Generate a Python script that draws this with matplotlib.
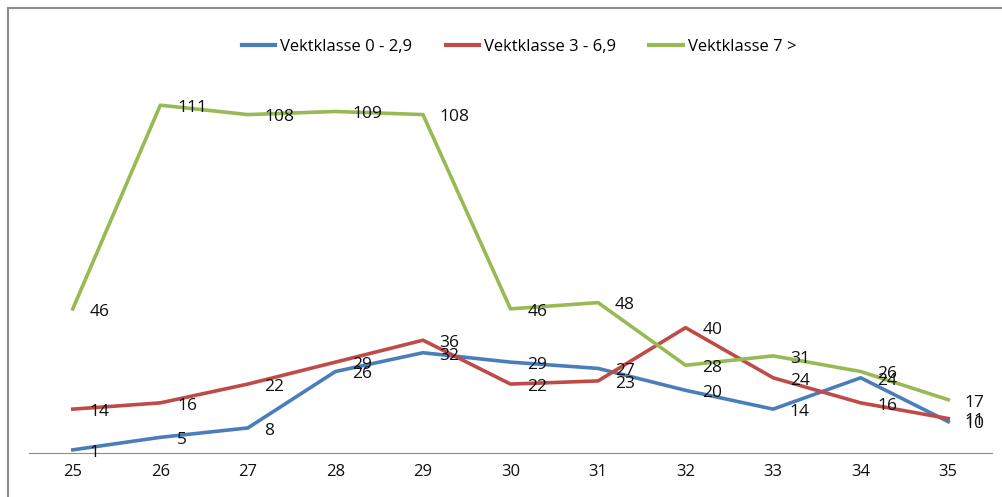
import matplotlib
matplotlib.use('Agg')
import matplotlib.pyplot as plt
from matplotlib.patches import Rectangle

uker = [25, 26, 27, 28, 29, 30, 31, 32, 33, 34, 35]
vekt_0_29 = [1, 5, 8, 26, 32, 29, 27, 20, 14, 24, 10]
vekt_3_69 = [14, 16, 22, 29, 36, 22, 23, 40, 24, 16, 11]
vekt_7 = [46, 111, 108, 109, 108, 46, 48, 28, 31, 26, 17]

serier = [
    ('Vektklasse 0 - 2,9', vekt_0_29, '#4A7EBB'),
    ('Vektklasse 3 - 6,9', vekt_3_69, '#BE4B48'),
    ('Vektklasse 7 >', vekt_7, '#98B954'),
]

plt.rcParams['font.family'] = ['Open Sans', 'DejaVu Sans']

fig = plt.figure(figsize=(10.03, 4.97), dpi=100)
fig.patches.append(Rectangle((8 / 1003, -0.1), 1.2, (497 - 8) / 497 + 0.1,
                             transform=fig.transFigure, fill=False,
                             edgecolor='#8c8c8c', linewidth=1.5))

ax = fig.add_axes([29 / 1003, 44 / 497, (992 - 29) / 1003, 376 / 497])
for navn, verdier, farge in serier:
    ax.plot(uker, verdier, color=farge, linewidth=2.6, label=navn)
    for x, y in zip(uker, verdier):
        ax.annotate(str(y), (x, y), xytext=(12, -2), textcoords='offset points',
                    ha='left', va='center', fontsize=12.5, color='#111111')

ax.set_xlim(24.5, 35.5)
ax.set_ylim(0, 120)
ax.set_xticks(uker)
ax.set_yticks([])
for side in ['top', 'right', 'left']:
    ax.spines[side].set_visible(False)
ax.spines['bottom'].set_color('#8c8c8c')
ax.tick_params(axis='x', length=0, pad=8, labelsize=12, colors='#111111')
ax.patch.set_alpha(0)

leg = fig.legend(loc='center', bbox_to_anchor=(519 / 1003, 1 - 47 / 497), ncol=3,
                 frameon=False, handlelength=2.0, columnspacing=2.0,
                 handletextpad=0.3, prop={'size': 12})
for h in leg.get_lines():
    h.set_linewidth(3)

fig.savefig('out.png', dpi=100)
